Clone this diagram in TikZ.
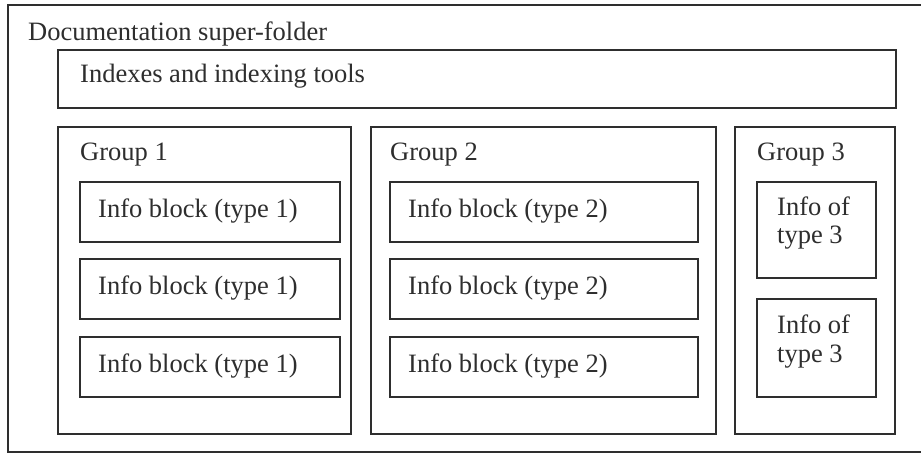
\documentclass[tikz,border=0pt]{standalone}
\usepackage{fontspec}
\setmainfont{Liberation Serif}
\definecolor{ink}{HTML}{2E2E2E}
\begin{document}
\begin{tikzpicture}[x=1pt,y=-1pt,
  box/.style={draw=ink, line width=1.5pt, inner sep=0pt, outer sep=0pt, anchor=north west},
  lbl/.style={text=ink, inner sep=0pt, anchor=base west, font=\fontsize{26.5}{28}\selectfont},
  lbl2/.style={lbl, align=left}]
\useasboundingbox (0,0) rectangle (921,453);
\fill[white] (0,0) rectangle (921,453);
% outer super-folder (cropped at right and bottom)
\node[box, minimum width=930pt, minimum height=447pt] (outer) at (8,5) {};
\node[lbl] (outerlbl) at (28,40) {Documentation super-folder};
% indexes
\node[box, minimum width=838pt, minimum height=58pt] (idx) at (58,50) {};
\node[lbl] (idxlbl) at (80,82) {Indexes and indexing tools};
% groups
\node[box, minimum width=293pt, minimum height=307pt] (g1) at (58,127) {};
\node[box, minimum width=345pt, minimum height=307pt] (g2) at (371,127) {};
\node[box, minimum width=160pt, minimum height=307pt] (g3) at (735,127) {};
\node[lbl] (g1lbl) at (80,160) {Group 1};
\node[lbl] (g2lbl) at (390,160) {Group 2};
\node[lbl] (g3lbl) at (757,160) {Group 3};
% group 1 blocks
\foreach \i/\y in {1/182,2/259,3/337}{
  \node[box, minimum width=260pt, minimum height=60pt] (a\i) at (80,\y) {};
  \node[lbl] (a\i lbl) at (98,\y+35) {Info block (type 1)};
}
% group 2 blocks
\foreach \i/\y in {1/182,2/259,3/337}{
  \node[box, minimum width=308pt, minimum height=60pt] (b\i) at (390,\y) {};
  \node[lbl] (b\i lbl) at (408,\y+35) {Info block (type 2)};
}
% group 3 blocks
\node[box, minimum width=119pt, minimum height=96pt] (c1) at (757,182) {};
\node[lbl] (c1lbl) at (777,215) {Info of};
\node[lbl] (c1lblb) at (777,243) {type 3};
\node[box, minimum width=119pt, minimum height=98pt] (c2) at (757,299) {};
\node[lbl] (c2lbl) at (777,333) {Info of};
\node[lbl] (c2lblb) at (777,362) {type 3};
\end{tikzpicture}
\end{document}
